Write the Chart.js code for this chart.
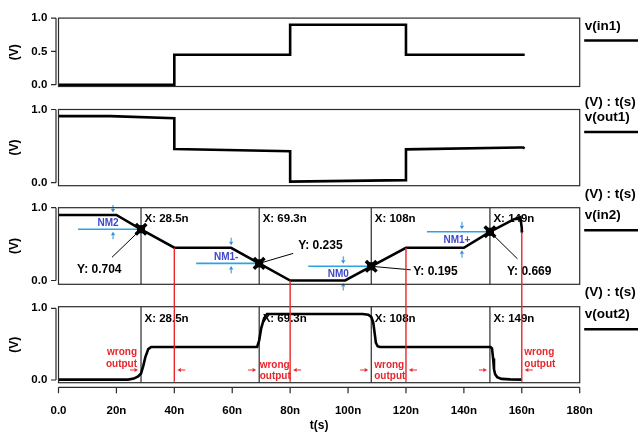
<!DOCTYPE html>
<html>
<head>
<meta charset="utf-8">
<script src="https://cdn.jsdelivr.net/npm/chart.js@4.4.1/dist/chart.umd.min.js"></script>
<style>
  html, body { margin: 0; padding: 0; background: #fff; }
  #wrap { position: relative; width: 638px; height: 436px; overflow: hidden; background: #fff; }
  #wrap canvas { position: absolute; left: 0; top: 0; }
</style>
</head>
<body>
<div id="wrap">
  <canvas id="p1" width="638" height="436"></canvas>
  <canvas id="p2" width="638" height="436"></canvas>
  <canvas id="p3" width="638" height="436"></canvas>
  <canvas id="p4" width="638" height="436"></canvas>
</div>
<script>
// ---- waveforms: time in ns, voltage in V ----
const xTicks = [0, 20, 40, 60, 80, 100, 120, 140, 160, 180];
const xTickLabels = ['0.0', '20n', '40n', '60n', '80n', '100n', '120n', '140n', '160n', '180n'];

const in1Time = [0, 40, 40, 80, 80, 120, 120, 161];
const in1Volt = [0, 0, 0.45, 0.45, 0.9, 0.9, 0.45, 0.45];

const out1Time = [0, 18, 40, 40, 80, 80, 120, 120, 159, 160.5, 161];
const out1Volt = [0.91, 0.91, 0.88, 0.46, 0.43, 0.015, 0.035, 0.455, 0.48, 0.48, 0.47];

const in2Time = [0, 20, 28.5, 40, 59.6, 69.3, 80, 99, 108, 120, 140, 149, 157.2, 159.5, 160, 160, 160.4];
const in2Volt = [0.9, 0.9, 0.704, 0.45, 0.45, 0.235, 0, 0, 0.195, 0.45, 0.45, 0.669, 0.84, 0.87, 0.72, 0.67, 0.66];

const out2Time = [0, 24, 26, 27.5, 28.5, 29.3, 30, 31, 32, 68.6, 69.3, 70, 71, 72,
                  105, 107, 108, 108.7, 109.2, 109.6, 110.2, 111,
                  149.2, 149.7, 150.1, 150.4, 150.8, 151.5, 153, 156, 160];
const out2Volt = [0.005, 0.005, 0.02, 0.05, 0.09, 0.2, 0.32, 0.43, 0.46, 0.46, 0.55, 0.72, 0.86, 0.92,
                  0.92, 0.91, 0.88, 0.8, 0.65, 0.52, 0.47, 0.46,
                  0.46, 0.44, 0.3, 0.15, 0.08, 0.04, 0.015, 0.008, 0.005];

// switching-point cursors on v(in2) and the logic level each noise margin is measured from
const crossTimes = [28.5, 69.3, 108, 149];
const crossVolts = [0.704, 0.235, 0.195, 0.669];
const crossLabels = ['28.5n', '69.3n', '108n', '149n'];
const marginNames = ['NM2', 'NM1-', 'NM0', 'NM1+'];
const marginLevels = [0.9, 0.45, 0.0, 0.45];
// input edges (end of each ramp)
const edgeTimes = [40, 80, 120, 160];

// ---- drawing helpers ----
const FONT = "'Liberation Sans', Arial, Helvetica, sans-serif";
const PLOT_LEFT = 58.5, PLOT_RIGHT = 579.7, W = 638, H = 436;
const RED = '#e8262b', BLUE_LINE = '#2aa5e2', BLUE_TEXT = '#4048c9';

const pts = (ts, vs) => ts.map((t, i) => ({ x: t, y: vs[i] }));

function levelAt(ts, vs, t) {
  let v = null;
  for (let i = 0; i < ts.length - 1; i++) {
    if (ts[i] <= t && t <= ts[i + 1] && ts[i + 1] > ts[i]) {
      v = vs[i] + (vs[i + 1] - vs[i]) * (t - ts[i]) / (ts[i + 1] - ts[i]);
    }
  }
  return v;
}

function arrow(ctx, x1, y1, x2, y2, color) {
  const a = Math.atan2(y2 - y1, x2 - x1), len = 3.6, hw = 2.1;
  const c = Math.cos(a), s = Math.sin(a);
  ctx.save();
  ctx.strokeStyle = color; ctx.fillStyle = color; ctx.lineWidth = 1;
  ctx.beginPath(); ctx.moveTo(x1, y1); ctx.lineTo(x2 - len * c, y2 - len * s); ctx.stroke();
  ctx.beginPath();
  ctx.moveTo(x2, y2);
  ctx.lineTo(x2 - len * c + hw * s, y2 - len * s - hw * c);
  ctx.lineTo(x2 - len * c - hw * s, y2 - len * s + hw * c);
  ctx.closePath(); ctx.fill();
  ctx.restore();
}

function trace(data) {
  return {
    data, borderColor: '#000', borderWidth: 2.6, pointRadius: 0,
    tension: 0, fill: false, borderCapStyle: 'butt', borderJoinStyle: 'miter'
  };
}

// frame, y spine with outer ticks, and the trace key on the right
function framePlugin(name, withUnits) {
  return {
    id: 'frame',
    afterDatasetsDraw(chart) {
      const { ctx, chartArea: a, scales: { y } } = chart;
      ctx.save();
      ctx.strokeStyle = '#2b2b2b'; ctx.lineWidth = 1.2;
      ctx.strokeRect(a.left, a.top, a.right - a.left, a.bottom - a.top);
      const ax = a.left - 2.5;
      const vals = y.ticks.map(t => t.value);
      ctx.beginPath();
      ctx.moveTo(ax, y.getPixelForValue(Math.max(...vals)));
      ctx.lineTo(ax, y.getPixelForValue(Math.min(...vals)));
      vals.forEach(v => {
        const py = y.getPixelForValue(v);
        ctx.moveTo(ax - 5, py); ctx.lineTo(ax, py);
      });
      ctx.stroke();
      ctx.fillStyle = '#000'; ctx.font = 'bold 13.5px ' + FONT;
      ctx.textBaseline = 'middle'; ctx.textAlign = 'left';
      ctx.fillText(name, a.right + 5, a.top + 8);
      ctx.strokeStyle = '#000'; ctx.lineWidth = 2.5;
      ctx.beginPath(); ctx.moveTo(a.right + 4.5, a.top + 22.5); ctx.lineTo(W, a.top + 22.5); ctx.stroke();
      if (withUnits) ctx.fillText('(V) : t(s)', a.right + 5, a.top + 84.5);
      ctx.restore();
    }
  };
}

function panel(id, cfg) {
  return new Chart(document.getElementById(id), {
    type: 'line',
    data: { datasets: cfg.datasets },
    options: {
      responsive: false, animation: false, events: [], devicePixelRatio: 1,
      layout: { padding: { left: 0, right: W - PLOT_RIGHT, top: cfg.top, bottom: cfg.bottomPad } },
      plugins: { legend: { display: false }, tooltip: { enabled: false } },
      scales: {
        x: {
          type: 'linear', min: 0, max: 180, display: !!cfg.showX,
          afterBuildTicks: s => { s.ticks = xTicks.map(v => ({ value: v })); },
          afterFit: s => { if (cfg.showX) s.height = cfg.xHeight; },
          grid: { display: false, drawTicks: false },
          border: { display: false },
          ticks: {
            padding: 21, color: '#000', maxRotation: 0, autoSkip: false,
            font: { family: FONT, size: 11.5, weight: 'bold' },
            callback: (v, i) => xTickLabels[i]
          },
          title: {
            display: true, text: 't(s)', color: '#000',
            font: { family: FONT, size: 12, weight: 'bold' },
            padding: { top: 0, bottom: 3 }
          }
        },
        y: {
          type: 'linear', min: cfg.yMin, max: cfg.yMax,
          afterFit: s => { s.width = PLOT_LEFT; },
          afterBuildTicks: s => { s.ticks = cfg.yTicks.map(v => ({ value: v })); },
          grid: { display: false, drawTicks: false },
          border: { display: false },
          ticks: {
            padding: 11.2, color: '#000',
            font: { family: FONT, size: 11.5, weight: 'bold' },
            callback: v => Number(v).toFixed(1)
          },
          title: {
            display: true, text: '(V)', color: '#000',
            font: { family: FONT, size: 12, weight: 'bold' },
            padding: { top: 7.5, bottom: 0 }
          }
        }
      }
    },
    plugins: [framePlugin(cfg.name, cfg.units)].concat(cfg.extra || [])
  });
}

// ---- panel 3 annotations: cursors, readouts and noise margins ----
const readoutPos = [
  { text: [-64, 40.5], lead: [-29, 28] },
  { text: [39, -17.5], lead: [34, -10] },
  { text: [42, 5.5], lead: [39.5, 3.5] },
  { text: [17, 39.5], lead: [27.5, 27] }
];

const in2Notes = {
  id: 'in2Notes',
  beforeDatasetsDraw(chart) {
    const { ctx, chartArea: a, scales: { x, y } } = chart;
    ctx.save();
    crossTimes.forEach((t, i) => {
      const cx = x.getPixelForValue(t);
      const mx = cx, my = y.getPixelForValue(crossVolts[i]);
      // cursor line and its X readout
      ctx.strokeStyle = '#000'; ctx.lineWidth = 1;
      ctx.beginPath(); ctx.moveTo(cx, a.top); ctx.lineTo(cx, a.bottom); ctx.stroke();
      ctx.fillStyle = '#000'; ctx.font = 'bold 11.5px ' + FONT;
      ctx.textAlign = 'left'; ctx.textBaseline = 'middle';
      ctx.fillText('X: ' + crossLabels[i], cx + 3.5, a.top + 11.5);
      // Y readout with leader
      const p = readoutPos[i];
      ctx.beginPath(); ctx.moveTo(mx + p.lead[0], my + p.lead[1]); ctx.lineTo(mx, my); ctx.stroke();
      ctx.font = 'bold 12px ' + FONT;
      ctx.fillText('Y: ' + crossVolts[i], mx + p.text[0], my + p.text[1]);
      // noise margin between the cursor level and the logic level
      const ly = y.getPixelForValue(marginLevels[i]);
      const above = marginLevels[i] > crossVolts[i];
      ctx.strokeStyle = BLUE_LINE; ctx.lineWidth = 1.6;
      ctx.beginPath(); ctx.moveTo(mx - 63, my); ctx.lineTo(mx, my); ctx.stroke();
      const hi = Math.min(my, ly), lo = Math.max(my, ly);
      arrow(ctx, mx - 28, hi - 10, mx - 28, hi - 2.5, '#2d8fd6');
      arrow(ctx, mx - 28, lo + 10, mx - 28, lo + 2.5, '#2d8fd6');
      ctx.fillStyle = BLUE_TEXT; ctx.font = 'bold 10px ' + FONT; ctx.textAlign = 'center';
      ctx.fillText(marginNames[i], mx - 33, above ? my - 5.8 : my + 8);
    });
    ctx.restore();
  }
};

// ---- panel 4 annotations: cursors, edge markers and wrong-output windows ----
const wrongPos = [
  { from: 'cursor', dx: -4, align: 'right', rows: [45.3, 57.3] },
  { from: 'cursor', dx: 0.5, align: 'left', rows: [59, 69.3] },
  { from: 'cursor', dx: 3, align: 'left', rows: [59, 69.3] },
  { from: 'edge', dx: 2.5, align: 'left', rows: [45.3, 57.3] }
];

let chartIn2 = null;

const out2Notes = {
  id: 'out2Notes',
  beforeDatasetsDraw(chart) {
    const { ctx, chartArea: a, scales: { x } } = chart;
    ctx.save();
    crossTimes.forEach((t, i) => {
      const cx = x.getPixelForValue(t);
      ctx.strokeStyle = '#000'; ctx.lineWidth = 1;
      ctx.beginPath(); ctx.moveTo(cx, a.top); ctx.lineTo(cx, a.bottom); ctx.stroke();
      ctx.fillStyle = '#000'; ctx.font = 'bold 11.5px ' + FONT;
      ctx.textAlign = 'left'; ctx.textBaseline = 'middle';
      ctx.fillText('X: ' + crossLabels[i], cx + 3.5, a.top + 12.3);
    });
    ctx.restore();
  },
  afterDraw(chart) {
    const { ctx, chartArea: a, scales: { x } } = chart;
    ctx.save();
    // time axis line with ticks below the frame
    ctx.strokeStyle = '#2b2b2b'; ctx.lineWidth = 1.2;
    const axY = a.bottom + 4.6;
    ctx.beginPath();
    ctx.moveTo(x.getPixelForValue(0), axY); ctx.lineTo(x.getPixelForValue(180), axY);
    xTicks.forEach(v => { const px = x.getPixelForValue(v); ctx.moveTo(px, axY); ctx.lineTo(px, axY + 6); });
    ctx.stroke();
    // edge markers running from v(in2) down through v(out2)
    const yIn2 = chartIn2.scales.y;
    edgeTimes.forEach((t, i) => {
      const ex = x.getPixelForValue(t);
      const top = yIn2.getPixelForValue(levelAt(in2Time, in2Volt, t));
      ctx.strokeStyle = RED; ctx.lineWidth = 1.4;
      ctx.beginPath(); ctx.moveTo(ex, top); ctx.lineTo(ex, a.bottom - 1); ctx.stroke();
      const cx = x.getPixelForValue(crossTimes[i]);
      const ay = a.top + 63.3;
      arrow(ctx, cx - 11, ay, cx - 3, ay, RED);
      arrow(ctx, ex + 11, ay, ex + 3, ay, RED);
      const p = wrongPos[i];
      const tx = (p.from === 'cursor' ? cx : ex) + p.dx;
      ctx.fillStyle = RED; ctx.font = 'bold 10px ' + FONT;
      ctx.textAlign = p.align; ctx.textBaseline = 'middle';
      ctx.fillText('wrong', tx, a.top + p.rows[0]);
      ctx.fillText('output', tx, a.top + p.rows[1]);
    });
    ctx.restore();
  }
};

// ---- panels ----
panel('p1', {
  name: 'v(in1)', units: true, top: 10, bottomPad: H - 86.5, yMin: -0.027, yMax: 1.0,
  yTicks: [0, 0.5, 1.0],
  datasets: [trace(pts(in1Time, in1Volt))]
});

panel('p2', {
  name: 'v(out1)', units: true, top: 109.5, bottomPad: H - 185.7, yMin: -0.041, yMax: 1.0,
  yTicks: [0, 1.0],
  datasets: [trace(pts(out1Time, out1Volt))]
});

chartIn2 = panel('p3', {
  name: 'v(in2)', units: true, top: 207.7, bottomPad: H - 284.3, yMin: -0.052, yMax: 1.0,
  yTicks: [0, 1.0],
  extra: [in2Notes],
  datasets: [
    trace(pts(in2Time, in2Volt)),
    { data: pts(crossTimes, crossVolts), showLine: false, pointStyle: 'rect', pointRadius: 5,
      pointBackgroundColor: '#000', pointBorderColor: '#000', pointBorderWidth: 1 },
    { data: pts(crossTimes, crossVolts), showLine: false, pointStyle: 'crossRot', pointRadius: 7.5,
      pointBorderColor: '#000', pointBorderWidth: 3.5 }
  ]
});

panel('p4', {
  name: 'v(out2)', units: false, top: 306.7, bottomPad: 0, yMin: -0.038, yMax: 1.022,
  yTicks: [0, 1.0], showX: true, xHeight: H - 382.7,
  extra: [out2Notes],
  datasets: [trace(pts(out2Time, out2Volt))]
});
</script>
</body>
</html>
